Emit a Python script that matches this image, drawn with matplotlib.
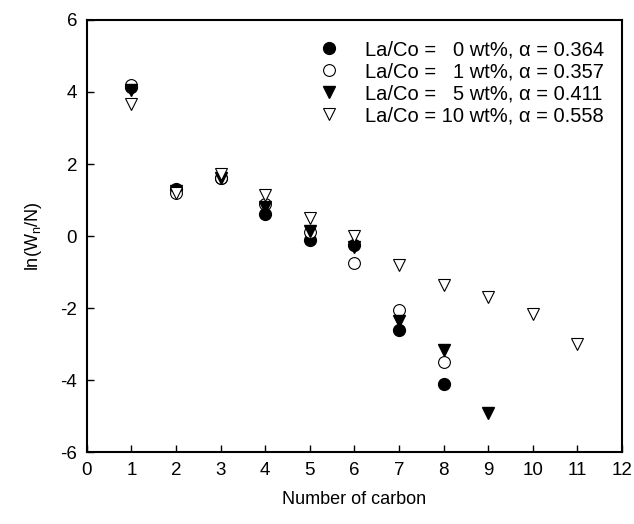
import numpy as np
import matplotlib.pyplot as plt

plt.rcParams['font.family'] = ['Liberation Sans', 'DejaVu Sans']
plt.rcParams['mathtext.fontset'] = 'custom'
plt.rcParams['mathtext.rm'] = 'Liberation Sans'
plt.rcParams['mathtext.it'] = 'Liberation Sans'
plt.rcParams['axes.unicode_minus'] = False

carbon_0 = [1, 2, 3, 4, 5, 6, 7, 8]
ln_0 = [4.15, 1.3, 1.6, 0.6, -0.1, -0.25, -2.6, -4.1]

carbon_1 = [1, 2, 3, 4, 5, 6, 7, 8]
ln_1 = [4.2, 1.2, 1.6, 0.9, 0.1, -0.75, -2.05, -3.5]

carbon_5 = [1, 2, 3, 4, 5, 6, 7, 8, 9]
ln_5 = [4.05, 1.25, 1.62, 0.8, 0.15, -0.3, -2.35, -3.15, -4.9]

carbon_10 = [1, 2, 3, 4, 5, 6, 7, 8, 9, 10, 11]
ln_10 = [3.67, 1.2, 1.72, 1.15, 0.5, 0.0, -0.8, -1.35, -1.7, -2.15, -3.0]

labels = ["La/Co =   0 wt%, \u03b1 = 0.364",
          "La/Co =   1 wt%, \u03b1 = 0.357",
          "La/Co =   5 wt%, \u03b1 = 0.411",
          "La/Co = 10 wt%, \u03b1 = 0.558"]

fig = plt.figure(figsize=(6.34, 5.24), dpi=100)
ax = fig.add_axes([0.137, 0.137, 0.844, 0.825])

ms = 8.5
ax.plot(carbon_0, ln_0, 'o', color='black', ms=ms, label=labels[0])
ax.plot(carbon_1, ln_1, 'o', mfc='white', mec='black', mew=0.8, ms=ms, label=labels[1])
ax.plot(carbon_5, ln_5, 'v', color='black', ms=ms + 0.5, label=labels[2])
ax.plot(carbon_10, ln_10, 'v', mfc='white', mec='black', mew=0.8, ms=ms + 0.5, label=labels[3])

ax.set_xlim(0, 12)
ax.set_ylim(-6, 6)
ax.set_xticks(range(0, 13))
ax.set_yticks(range(-6, 7, 2))
ax.tick_params(direction='in', length=5, width=1, labelsize=13.5, pad=7)
for s in ax.spines.values():
    s.set_linewidth(1.5)

ax.set_xlabel("Number of carbon", fontsize=13, labelpad=9)
ax.set_ylabel("ln(W$_n$/N)", fontsize=13, labelpad=12)

ax.legend(loc='upper right', bbox_to_anchor=(1.0, 0.995), frameon=False,
          fontsize=14.5, handletextpad=1.15, labelspacing=0.15,
          borderaxespad=0.5, handlelength=1.2)

fig.savefig("out.png", dpi=100)
